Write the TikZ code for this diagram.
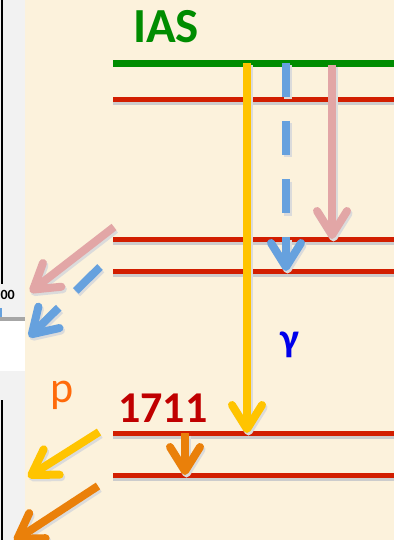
\documentclass[tikz,border=0pt]{standalone}
\usepackage{fontspec}
\setmainfont{Carlito}
\usetikzlibrary{arrows.meta,positioning,calc}
\definecolor{parch}{RGB}{252,242,220}
\definecolor{stripgray}{RGB}{242,242,242}
\definecolor{iasgreen}{RGB}{0,140,0}
\definecolor{lvlred}{RGB}{210,30,0}
\definecolor{numred}{RGB}{192,0,0}
\definecolor{gold}{RGB}{255,196,0}
\definecolor{skyblue}{RGB}{102,161,222}
\definecolor{rosy}{RGB}{226,166,166}
\definecolor{amber}{RGB}{234,128,10}
\definecolor{porange}{RGB}{255,106,10}
\definecolor{gammablue}{RGB}{0,0,235}
\tikzstyle{level} = [line width=5pt, preaction={draw=black!20, line width=5pt, transform canvas={yshift=-3pt}}]
\tikzstyle{decay} = [line width=8pt, -{Straight Barb[length=24pt,width=30pt,round]}, preaction={draw=black!14, line width=8pt, transform canvas={shift={(1.5pt,-2.5pt)}}}]
\tikzstyle{decaydash} = [line width=8pt, dash pattern=on 34pt off 24pt, -{Straight Barb[length=24pt,width=30pt,round]}, preaction={draw=black!14, line width=8pt, dash pattern=on 34pt off 24pt, transform canvas={shift={(1.5pt,-2.5pt)}}}]
\tikzstyle{lbl} = [inner sep=0pt, font=\bfseries]

\begin{document}
\begin{tikzpicture}[x=1pt, y=-1pt]
  \useasboundingbox (0,0) rectangle (394,540);
  \clip (0,0) rectangle (394,540);
  % background and the cut-off slide on the left
  \fill [parch] (0,0) rectangle (394,540);
  \fill [stripgray] (0,0) rectangle (25,540);
  \fill [white] (0,321) rectangle (25,371);
  \fill [black!35] (0,317) rectangle (25,321);
  \fill [skyblue] (0,308) rectangle (2,317);
  \draw [line width=2pt] (1.5,0) -- (1.5,284);
  \draw [line width=2pt] (1.5,400) -- (1.5,540);
  \node [lbl, anchor=base east, font=\bfseries\fontsize{14}{14}\selectfont] (ax) at (15,299) {00};

  % levels
  \coordinate (iasL) at (113,64);   \coordinate (iasR) at (394,64);
  \coordinate (aL) at (113,100);    \coordinate (aR) at (394,100);
  \coordinate (bL) at (113,239);    \coordinate (bR) at (394,239);
  \coordinate (cL) at (113,271);    \coordinate (cR) at (394,271);
  \coordinate (dL) at (113,433);    \coordinate (dR) at (394,433);
  \coordinate (eL) at (113,475);    \coordinate (eR) at (394,475);

  \draw [line width=7pt, iasgreen] (iasL) -- (iasR);
  \draw [level, lvlred] (aL) -- (aR);
  \draw [level, lvlred] (bL) -- (bR);
  \draw [level, lvlred] (cL) -- (cR);
  \draw [level, lvlred] (dL) -- (dR);
  \draw [level, lvlred] (eL) -- (eR);

  \node [lbl, anchor=base west, text=iasgreen, font=\bfseries\fontsize{49}{49}\selectfont] (ias) at (133,43) {IAS};
  \node [lbl, anchor=base west, text=numred, font=\bfseries\fontsize{44}{44}\selectfont] (n1711) at (118,422) {1711};
  \node [inner sep=0pt, anchor=base west, text=porange, font=\fontsize{44}{44}\selectfont] (p) at (50,402) {p};
  \node [lbl, text=gammablue, font=\bfseries\fontsize{40}{40}\selectfont] (gam) at (290,345) {γ};

  % transitions
  \coordinate (ytop) at (247,63);  \coordinate (ybot) at (247,433);
  \coordinate (btop) at (286,63);  \coordinate (bbot) at (286,271);
  \coordinate (rtop) at (332,65);  \coordinate (rbot) at (332,239);
  \coordinate (otop) at (185,433); \coordinate (obot) at (185,475);
  \draw [decay, gold] (ytop) -- (ybot);
  \draw [decaydash, skyblue] (btop) -- (bbot);
  \draw [decay, rosy] (rtop) -- (rbot);
  \draw [decay, amber] (otop) -- (obot);

  % emitted particles
  \coordinate (rs) at (114,227);  \coordinate (re) at (30,292);
  \coordinate (bs) at (100,267);  \coordinate (be) at (29,337);
  \coordinate (ys) at (99,432);   \coordinate (ye) at (28,477);
  \coordinate (os) at (98,486);   \coordinate (oe) at (14,541);
  \draw [decay, rosy] (rs) -- (re);
  \draw [decaydash, skyblue] (bs) -- (be);
  \draw [decay, gold] (ys) -- (ye);
  \draw [decay, amber] (os) -- (oe);
\end{tikzpicture}
\end{document}
